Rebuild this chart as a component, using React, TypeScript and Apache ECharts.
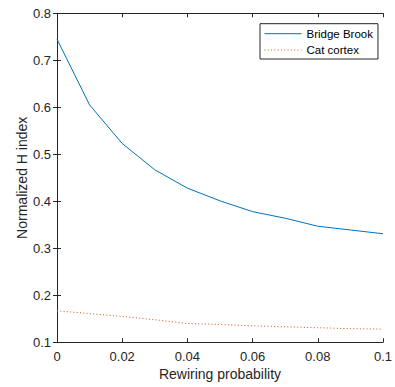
import React, { useEffect, useRef } from "react";
import * as echarts from "echarts";

// Rewiring probabilities sampled along the x axis
const rewiringProb = [0, 0.01, 0.02, 0.03, 0.04, 0.05, 0.06, 0.07, 0.08, 0.09, 0.1];
// Normalized H index per network
const bridgeBrook = [0.745, 0.605, 0.523, 0.467, 0.428, 0.401, 0.378, 0.364, 0.347, 0.339, 0.331];
const catCortex = [0.167, 0.161, 0.155, 0.148, 0.14, 0.138, 0.135, 0.133, 0.131, 0.129, 0.128];

const seriesNames = ["Bridge Brook", "Cat cortex"];
const axisColor = "#262626";
const fontFamily = "'Liberation Sans', Arial, Helvetica, sans-serif";

const pairs = (xs: number[], ys: number[]) => xs.map((x, i) => [x, ys[i]]);

export default function App() {
  const ref = useRef<HTMLDivElement>(null);

  useEffect(() => {
    if (!ref.current) return;
    const chart = echarts.init(ref.current, null, { renderer: "svg" });

    const frameAxis = {
      axisLine: { show: true, lineStyle: { color: axisColor, width: 1 } },
      axisTick: { show: true, inside: true, length: 4, lineStyle: { color: axisColor } },
      splitLine: { show: false },
    };

    chart.setOption({
      animation: false,
      backgroundColor: "#ffffff",
      textStyle: { fontFamily },
      grid: { left: 57, right: 9, top: 13.3, bottom: 44.7, containLabel: false },
      legend: {
        orient: "vertical",
        left: 260,
        top: 23.7,
        data: seriesNames,
        itemWidth: 37,
        itemHeight: 12,
        itemGap: 4.3,
        padding: [4, 5, 3, 4],
        borderColor: axisColor,
        borderWidth: 1,
        backgroundColor: "#ffffff",
        itemStyle: { opacity: 0 },
        lineStyle: { width: 1 },
        textStyle: { fontSize: 11.5, color: "#000", fontFamily },
      },
      xAxis: [
        {
          type: "value",
          min: 0,
          max: 0.1,
          interval: 0.02,
          position: "bottom",
          name: "Rewiring probability",
          nameLocation: "middle",
          nameGap: 25,
          nameMoveOverlap: false,
          nameTextStyle: { fontSize: 14, color: axisColor, fontFamily },
          axisLabel: {
            fontSize: 13,
            color: axisColor,
            margin: 8,
            fontFamily,
            formatter: (v: number) => String(+v.toFixed(2)),
          },
          ...frameAxis,
        },
        {
          type: "value",
          min: 0,
          max: 0.1,
          interval: 0.02,
          position: "top",
          axisLabel: { show: false },
          ...frameAxis,
        },
      ],
      yAxis: [
        {
          type: "value",
          min: 0.1,
          max: 0.8,
          interval: 0.1,
          position: "left",
          name: "Normalized H index",
          nameLocation: "middle",
          nameGap: 28,
          nameMoveOverlap: false,
          nameTextStyle: { fontSize: 14, color: axisColor, fontFamily },
          axisLabel: {
            fontSize: 13,
            color: axisColor,
            margin: 6,
            fontFamily,
            formatter: (v: number) => v.toFixed(1),
          },
          ...frameAxis,
        },
        {
          type: "value",
          min: 0.1,
          max: 0.8,
          interval: 0.1,
          position: "right",
          axisLabel: { show: false },
          ...frameAxis,
        },
      ],
      series: [
        {
          name: seriesNames[0],
          type: "line",
          data: pairs(rewiringProb, bridgeBrook),
          showSymbol: false,
          symbol: "none",
          color: "#0072BD",
          lineStyle: { color: "#0072BD", width: 1 },
        },
        {
          name: seriesNames[1],
          type: "line",
          data: pairs(rewiringProb, catCortex),
          showSymbol: false,
          symbol: "none",
          color: "#D95319",
          lineStyle: { color: "#D95319", width: 1, type: [1, 2.3] },
        },
      ],
    });

    return () => chart.dispose();
  }, []);

  return (
    <div
      ref={ref}
      style={{ position: "fixed", left: 0, top: 0, width: 395, height: 387 }}
    />
  );
}
